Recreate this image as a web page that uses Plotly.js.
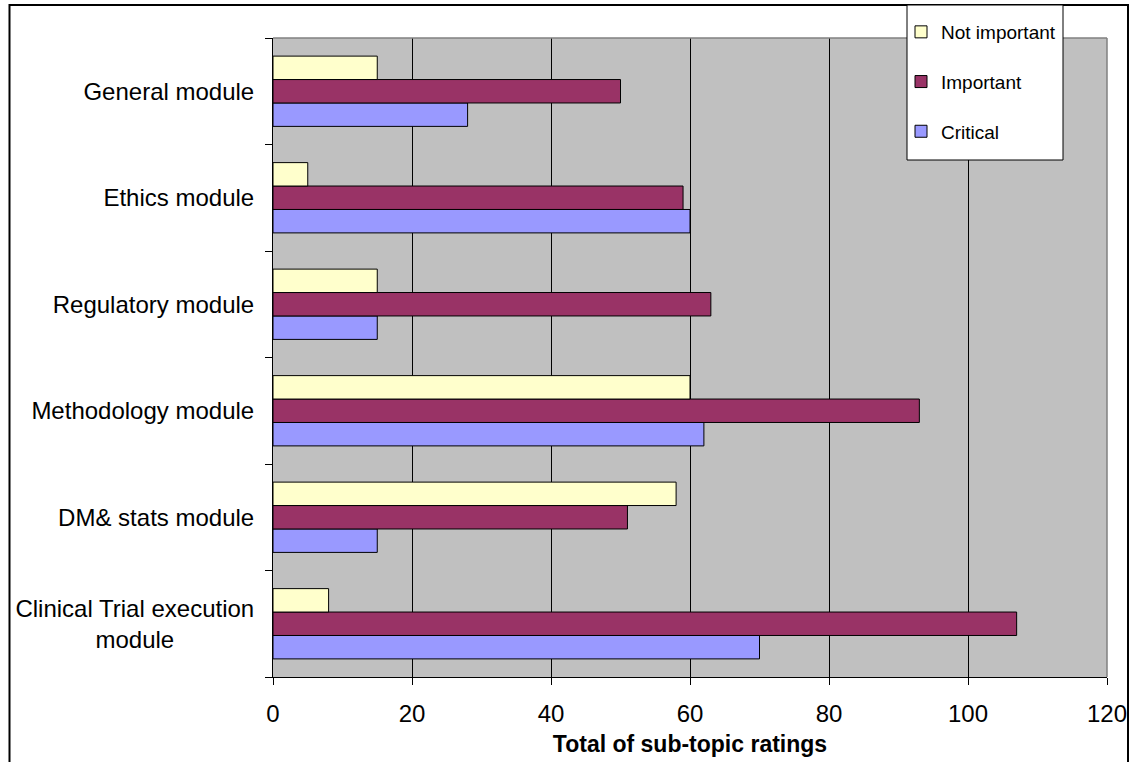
<!DOCTYPE html>
<html>
<head>
<meta charset="utf-8">
<script src="https://cdn.plot.ly/plotly-3.0.1.min.js"></script>
<style>
  html, body { margin: 0; padding: 0; background: #ffffff; }
  #chart { width: 1139px; height: 762px; }
</style>
</head>
<body>
<div id="chart"></div>
<script>
// Modules, listed bottom to top as they sit on the category axis.
// The second line of the first label is padded with no-break spaces so the
// two lines read centred under each other.
const modules = [
  "Clinical Trial execution<br>module" + "\u00a0".repeat(12),
  "DM& stats module",
  "Methodology module",
  "Regulatory module",
  "Ethics module",
  "General module"
];

// Sub-topic rating totals per module (same order as modules)
const critical     = [70, 15, 62, 15, 60, 28];
const important    = [107, 51, 93, 63, 59, 50];
const notImportant = [8, 58, 60, 15, 5, 15];

const xTicks = [0, 20, 40, 60, 80, 100, 120];

const FONT = "Arial, 'Liberation Sans', sans-serif";

// Plot area in pixels, used to place the frame and legend box in paper units
const W = 1139, H = 762;
const M = { l: 273, r: 32, t: 38, b: 85, autoexpand: false };
const pw = W - M.l - M.r, ph = H - M.t - M.b;
const px = v => (v - M.l) / pw;
const py = v => (H - M.b - v) / ph;

function barTrace(name, values, color, rank) {
  return {
    type: "bar",
    orientation: "h",
    name: name,
    x: values,
    y: modules,
    legendgroup: name,
    legendrank: rank,
    marker: { color: color, line: { color: "#000000", width: 1 } },
    hoverinfo: "x+name"
  };
}

const data = [
  barTrace("Critical", critical, "#9999FF", 3),
  barTrace("Important", important, "#993366", 2),
  barTrace("Not important", notImportant, "#FFFFCC", 1)
];

const layout = {
  width: W,
  height: H,
  margin: M,
  paper_bgcolor: "#ffffff",
  plot_bgcolor: "#C0C0C0",
  font: { family: FONT, color: "#000000", size: 24 },
  barmode: "group",
  bargap: 0.34,
  bargroupgap: 0,
  showlegend: true,
  legend: {
    x: px(901), y: py(13),
    xanchor: "left", yanchor: "top",
    bgcolor: "rgba(0,0,0,0)",
    borderwidth: 0,
    font: { family: FONT, size: 19, color: "#000000" },
    traceorder: "grouped",
    tracegroupgap: 22,
    itemwidth: 30
  },
  xaxis: {
    range: [0, 120],
    tickvals: xTicks,
    ticktext: xTicks.map(String),
    ticks: "outside",
    ticklen: 7,
    tickcolor: "#000000",
    tickfont: { family: FONT, size: 24 },
    ticklabelstandoff: 8,
    showgrid: true,
    gridcolor: "#000000",
    gridwidth: 1,
    zeroline: false,
    showline: true,
    linecolor: "#000000",
    linewidth: 1,
    title: {
      text: "<b>Total of sub-topic ratings</b>",
      font: { family: FONT, size: 23 },
      standoff: 10
    },
    fixedrange: true
  },
  yaxis: {
    type: "category",
    categoryorder: "array",
    categoryarray: modules,
    tickson: "boundaries",
    ticks: "outside",
    ticklen: 7,
    tickcolor: "#000000",
    tickfont: { family: FONT, size: 24 },
    ticklabelstandoff: 13,
    showgrid: false,
    zeroline: false,
    showline: true,
    linecolor: "#000000",
    linewidth: 1,
    fixedrange: true
  },
  shapes: [
    // gray top and right edges of the plot area
    { type: "line", xref: "paper", yref: "paper", x0: 0, x1: 1, y0: 1, y1: 1,
      line: { color: "#808080", width: 1.5 } },
    { type: "line", xref: "paper", yref: "paper", x0: 1, x1: 1, y0: 0, y1: 1,
      line: { color: "#808080", width: 1.5 } },
    // outer chart frame
    { type: "rect", xref: "paper", yref: "paper", layer: "below",
      x0: px(9.5), x1: px(1128), y0: py(H + 20), y1: py(5),
      line: { color: "#000000", width: 2 }, fillcolor: "rgba(0,0,0,0)" },
    // legend box
    { type: "rect", xref: "paper", yref: "paper", layer: "above",
      x0: px(907), x1: px(1063), y0: py(160), y1: py(5),
      line: { color: "#000000", width: 1 }, fillcolor: "#ffffff" }
  ]
};

Plotly.newPlot("chart", data, layout, { displayModeBar: false, staticPlot: true });
</script>
</body>
</html>
